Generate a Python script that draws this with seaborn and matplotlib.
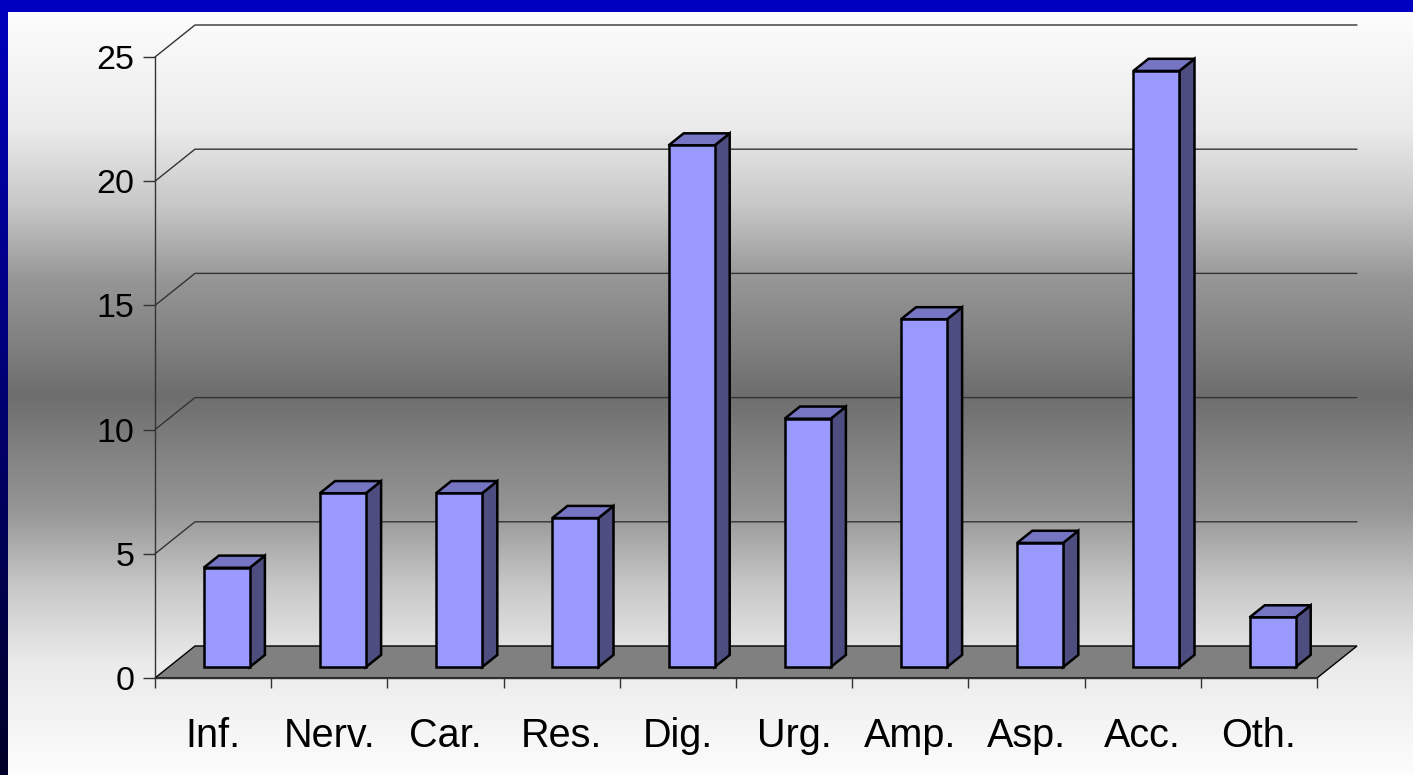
import numpy as np
import pandas as pd
import matplotlib
matplotlib.use("Agg")
import matplotlib.pyplot as plt
import matplotlib.transforms as mtransforms
from matplotlib.patches import Polygon
from matplotlib.ticker import FixedLocator
import seaborn as sns

# datos del gráfico
categorias = ["Inf.", "Nerv.", "Car.", "Res.", "Dig.", "Urg.", "Amp.", "Asp.", "Acc.", "Oth."]
valores = [4, 7, 7, 6, 21, 10, 14, 5, 24, 2]
ticks_y = [0, 5, 10, 15, 20, 25]

df = pd.DataFrame({"cat": categorias, "val": valores})

sns.set_theme(style="white")
plt.rcParams["font.family"] = ["Liberation Sans", "DejaVu Sans"]

W, H = 1413, 775
fig = plt.figure(figsize=(W / 100, H / 100), dpi=100)

# fondo: marco azul + degradado gris
ax_bg = fig.add_axes([0, 0, 1, 1], zorder=-1)
yy = np.arange(H)
t = np.abs(yy - 395) / 383.0
g = np.interp(t, [0, 0.3, 0.5, 0.7, 1.0], [110, 150, 200, 235, 253]) / 255.0
img = np.ones((H, W, 3)) * g[:, None, None]
blue_left = np.linspace(190, 40, H) / 255.0
img[:, :8, 0] = 0
img[:, :8, 1] = 0
img[:, :8, 2] = blue_left[:, None]
img[:12, :, :] = [0, 0, 192 / 255.0]
ax_bg.imshow(img, aspect="auto", extent=[0, 1, 0, 1])
ax_bg.axis("off")

# ejes principales (coordenadas de datos = categoría / valor)
ax = fig.add_axes([0, 0, 1, 1])
ax.patch.set_alpha(0)

# profundidad 3D en unidades de datos
ddx, ddy = 40 / 116.2, 32 / 24.84
f_front, f_depth = 0.34, 0.38
ancho = 46 / 116.2

sns.barplot(data=df, x="cat", y="val", color="#9999FF", saturation=1,
            edgecolor="black", linewidth=1.8, width=ancho, ax=ax, zorder=5)

shift = mtransforms.Affine2D().translate(f_front * ddx, f_front * ddy)
for p in ax.patches:
    p.set_transform(shift + ax.transData)

n = len(categorias)
x0, x1 = -0.5, n - 0.5

# suelo
ax.add_patch(Polygon([(x0, 0), (x1, 0), (x1 + ddx, ddy), (x0 + ddx, ddy)],
                     closed=True, facecolor="#808080", edgecolor="black", lw=1, zorder=2))

# líneas de la cuadrícula (pared trasera y lateral)
for v in ticks_y[1:]:
    ax.plot([x0, x0 + ddx, x1 + ddx], [v, v + ddy, v + ddy], color="#333333", lw=1, zorder=1)

# caras lateral y superior de las barras
bx, by = f_depth * ddx, f_depth * ddy
for i, v in enumerate(valores):
    l = i - ancho / 2 + f_front * ddx
    r = i + ancho / 2 + f_front * ddx
    b = f_front * ddy
    ax.add_patch(Polygon([(r, b), (r, b + v), (r + bx, b + v + by), (r + bx, b + by)],
                         closed=True, facecolor="#4D4D80", edgecolor="black", lw=1.8, zorder=4))
    ax.add_patch(Polygon([(l, b + v), (r, b + v), (r + bx, b + v + by), (l + bx, b + v + by)],
                         closed=True, facecolor="#7575C4", edgecolor="black", lw=1.8, zorder=4))

# límites para que la geometría coincida con la imagen
ax.set_xlim(-0.5 - 155 / 116.2, -0.5 + (W - 155) / 116.2)
ax.set_ylim(-(H - 678) / 24.84, 678 / 24.84)

for s in ["top", "right"]:
    ax.spines[s].set_visible(False)
ax.spines["left"].set_position(("data", x0))
ax.spines["left"].set_bounds(0, 25)
ax.spines["bottom"].set_position(("data", 0))
ax.spines["bottom"].set_bounds(x0, x1)
for s in ["left", "bottom"]:
    ax.spines[s].set_color("#333333")
    ax.spines[s].set_linewidth(1)
    ax.spines[s].set_zorder(3)

ax.set_yticks(ticks_y)
ax.set_yticklabels([str(v) for v in ticks_y])
ax.tick_params(axis="y", direction="out", length=8.6, width=1, color="#333333",
               pad=6, labelsize=24.5, labelcolor="black", left=True)
ax.set_xticks(range(n))
ax.set_xticklabels(categorias)
ax.xaxis.set_minor_locator(FixedLocator(np.arange(x0, x1 + 0.01, 1)))
ax.tick_params(axis="x", which="major", length=0, pad=28, labelsize=28.5, labelcolor="black")
ax.tick_params(axis="x", which="minor", direction="out", length=7.2, width=1,
               color="#333333", bottom=True)
ax.set_xlabel("")
ax.set_ylabel("")

fig.savefig("out.png", dpi=100)
